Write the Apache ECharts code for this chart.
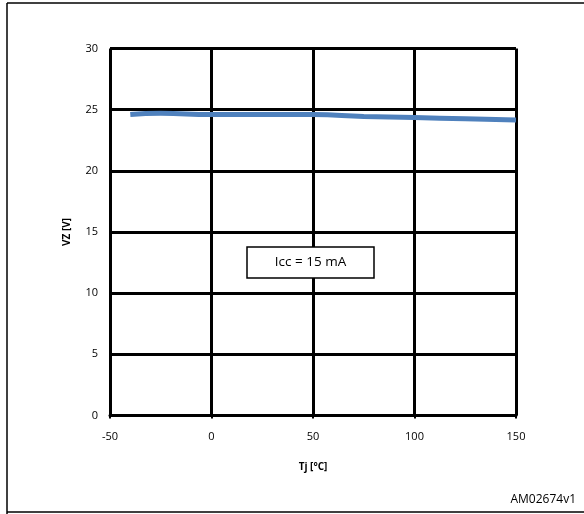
<!DOCTYPE html>
<html><head><meta charset="utf-8">
<script src="https://cdn.jsdelivr.net/npm/echarts@6/dist/echarts.min.js"></script>
<style>html,body{margin:0;padding:0;background:#fff}#c{width:584px;height:514px}</style>
</head><body><div id="c"></div>
<script>
const tj = [-40, -25, 0, 25, 50, 75, 100, 125, 150];
const vz = [24.6, 24.7, 24.6, 24.6, 24.6, 24.45, 24.35, 24.25, 24.15];
const xTitle = 'Tj [°C]';
const yTitle = 'VZ [V]';
const noteText = 'Icc = 15 mA';
const codeText = 'AM02674v1';

const font = 'Open Sans, Liberation Sans, sans-serif';
const chart = echarts.init(document.getElementById('c'), null, {renderer: 'canvas'});
chart.setOption({
  animation: false,
  backgroundColor: '#fff',
  grid: {left: 110, right: 68, top: 48.5, bottom: 98.5, containLabel: false},
  xAxis: {
    type: 'value', min: -50, max: 150, interval: 50,
    name: xTitle, nameLocation: 'middle', nameGap: 47,
    nameTextStyle: {fontFamily: font, fontSize: 10, fontWeight: 'bold', color: '#000'},
    axisLine: {show: true, onZero: false, lineStyle: {color: '#000', width: 3}},
    axisTick: {show: true, length: 3, lineStyle: {color: '#000', width: 2}},
    axisLabel: {fontFamily: font, fontSize: 11, color: '#000', margin: 16},
    splitLine: {show: true, lineStyle: {color: '#000', width: 3}}
  },
  yAxis: {
    type: 'value', min: 0, max: 30, interval: 5,
    name: yTitle, nameLocation: 'middle', nameGap: 38, nameRotate: 90,
    nameTextStyle: {fontFamily: font, fontSize: 10, fontWeight: 'bold', color: '#000'},
    axisLine: {show: true, lineStyle: {color: '#000', width: 3}},
    axisTick: {show: true, length: 4, lineStyle: {color: '#000', width: 2}},
    axisLabel: {fontFamily: font, fontSize: 11, color: '#000', margin: 12},
    splitLine: {show: true, lineStyle: {color: '#000', width: 3}}
  },
  series: [{
    type: 'line', data: tj.map((x, i) => [x, vz[i]]),
    smooth: true, symbol: 'none',
    lineStyle: {color: '#4F81BD', width: 5}
  }],
  graphic: [
    {type: 'line', shape: {x1: 7, y1: 3, x2: 584, y2: 3}, style: {stroke: '#000', lineWidth: 1.5}},
    {type: 'line', shape: {x1: 7, y1: 3, x2: 7, y2: 514}, style: {stroke: '#000', lineWidth: 1.5}},
    {type: 'line', shape: {x1: 7, y1: 512, x2: 584, y2: 512}, style: {stroke: '#000', lineWidth: 1.5}},
    {type: 'rect', shape: {x: 247, y: 247, width: 127, height: 31},
     style: {fill: '#fff', stroke: '#000', lineWidth: 1.5}, z: 100},
    {type: 'text', x: 310.5, y: 262.5, z: 101,
     style: {text: noteText, fontFamily: font, fontSize: 13.5, fill: '#000', align: 'center', verticalAlign: 'middle'}},
    {type: 'text', x: 576, y: 500,
     style: {text: codeText, fontFamily: font, fontSize: 12, fill: '#000', align: 'right', verticalAlign: 'middle'}}
  ]
});
</script></body></html>
